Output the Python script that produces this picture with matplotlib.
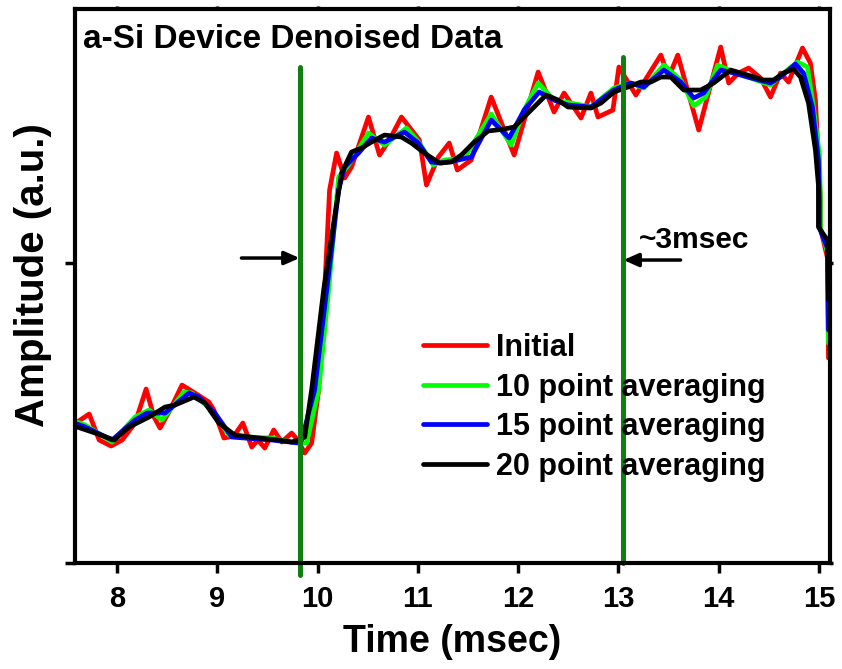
import matplotlib
matplotlib.use("Agg")
import matplotlib.pyplot as plt

plt.rcParams['font.family'] = ['Liberation Sans', 'DejaVu Sans']
plt.rcParams['font.weight'] = 'bold'

# ---- data (time in msec, amplitude in a.u.) ----
t_initial = [7.602, 7.721, 7.821, 7.940, 8.050, 8.179, 8.289, 8.368, 8.428, 8.527, 8.647, 8.776,
             8.915, 8.965, 9.065, 9.164, 9.254, 9.343, 9.403, 9.473, 9.562, 9.642, 9.741, 9.801,
             9.871, 9.940, 10.010, 10.070, 10.119, 10.189, 10.269, 10.338, 10.507, 10.617, 10.716,
             10.836, 11.015, 11.085, 11.204, 11.313, 11.393, 11.532, 11.731, 11.960, 12.199, 12.358,
             12.458, 12.627, 12.726, 12.796, 12.945, 13.005, 13.174, 13.423, 13.502, 13.592, 13.801,
             14.020, 14.100, 14.199, 14.299, 14.418, 14.517, 14.617, 14.697, 14.836, 14.915, 14.965,
             15.015, 15.015, 15.085, 15.095]
a_initial = [1.41, 1.49, 1.23, 1.17, 1.23, 1.40, 1.74, 1.46, 1.35, 1.53, 1.78, 1.70,
             1.61, 1.53, 1.25, 1.27, 1.40, 1.16, 1.23, 1.15, 1.33, 1.21, 1.30, 1.23,
             1.10, 1.20, 1.73, 2.73, 3.73, 4.10, 3.85, 3.96, 4.46, 4.08, 4.23,
             4.46, 4.23, 3.78, 4.06, 4.20, 3.93, 4.03, 4.66, 4.08, 4.91, 4.51,
             4.70, 4.45, 4.70, 4.46, 4.53, 4.96, 4.68, 5.08, 4.86, 5.08, 4.33,
             5.16, 4.80, 4.90, 4.95, 4.85, 4.66, 4.90, 4.81, 5.15, 5.00, 4.63,
             3.63, 3.35, 3.05, 2.05]

t_avg10 = [7.602, 7.682, 7.950, 8.179, 8.318, 8.448, 8.667, 8.746, 8.945, 9.114, 9.274, 9.542,
           9.741, 9.891, 10.010, 10.109, 10.209, 10.308, 10.507, 10.667, 10.886, 11.015, 11.154,
           11.264, 11.463, 11.731, 11.930, 12.060, 12.199, 12.358, 12.527, 12.726, 12.955, 13.124,
           13.254, 13.453, 13.622, 13.751, 13.871, 13.990, 14.149, 14.289, 14.517, 14.647, 14.786,
           14.886, 14.945, 15.005, 15.015, 15.015, 15.085, 15.095]
a_avg10 = [1.41, 1.38, 1.21, 1.46, 1.53, 1.43, 1.71, 1.70, 1.53, 1.28, 1.26, 1.25,
           1.21, 1.20, 1.73, 2.73, 3.86, 3.98, 4.30, 4.18, 4.35, 4.20, 3.98,
           4.03, 4.05, 4.49, 4.18, 4.53, 4.80, 4.63, 4.60, 4.56, 4.75, 4.80,
           4.75, 4.98, 4.83, 4.57, 4.66, 4.98, 4.91, 4.86, 4.78, 4.90, 5.01,
           4.96, 4.56, 4.08, 3.63, 3.35, 3.11, 2.20]

t_avg15 = [7.602, 7.682, 7.950, 8.179, 8.299, 8.478, 8.716, 8.816, 8.975, 9.144, 9.274, 9.542,
           9.811, 9.841, 9.970, 10.090, 10.209, 10.269, 10.408, 10.537, 10.667, 10.866, 11.005,
           11.134, 11.234, 11.403, 11.532, 11.731, 11.910, 12.060, 12.209, 12.358, 12.498, 12.726,
           12.955, 13.124, 13.254, 13.453, 13.622, 13.751, 13.851, 14.020, 14.149, 14.289, 14.517,
           14.617, 14.766, 14.846, 14.935, 14.995, 15.005, 15.005, 15.085, 15.095]
a_avg15 = [1.39, 1.36, 1.23, 1.43, 1.50, 1.50, 1.70, 1.66, 1.50, 1.26, 1.25, 1.23,
           1.20, 1.23, 1.73, 2.73, 3.73, 3.96, 4.10, 4.25, 4.21, 4.31, 4.20,
           4.01, 4.00, 4.03, 4.06, 4.43, 4.25, 4.53, 4.71, 4.63, 4.58, 4.56,
           4.73, 4.80, 4.76, 4.93, 4.81, 4.65, 4.70, 4.93, 4.90, 4.86, 4.80,
           4.86, 4.99, 4.90, 4.56, 4.03, 3.63, 3.35, 3.15, 2.33]

t_avg20 = [7.602, 7.781, 7.970, 8.119, 8.318, 8.478, 8.577, 8.766, 8.876, 9.015, 9.174, 9.413,
           9.612, 9.741, 9.811, 9.871, 9.940, 10.060, 10.169, 10.239, 10.338, 10.438, 10.537,
           10.667, 10.836, 10.935, 11.065, 11.214, 11.333, 11.433, 11.562, 11.701, 11.861, 11.960,
           12.129, 12.279, 12.398, 12.498, 12.726, 12.826, 12.955, 13.095, 13.224, 13.323, 13.423,
           13.522, 13.652, 13.821, 13.950, 14.119, 14.289, 14.448, 14.547, 14.647, 14.746, 14.816,
           14.896, 14.965, 14.995, 14.995, 15.085, 15.095]
a_avg20 = [1.36, 1.30, 1.23, 1.36, 1.46, 1.56, 1.58, 1.66, 1.60, 1.40, 1.28, 1.25,
           1.23, 1.21, 1.23, 1.26, 1.73, 2.73, 3.46, 3.90, 4.11, 4.15, 4.21,
           4.28, 4.26, 4.20, 4.10, 4.00, 4.01, 4.08, 4.21, 4.32, 4.34, 4.36,
           4.53, 4.68, 4.63, 4.56, 4.55, 4.60, 4.71, 4.76, 4.81, 4.81, 4.86,
           4.86, 4.73, 4.73, 4.80, 4.93, 4.88, 4.83, 4.83, 4.90, 4.94, 4.86,
           4.60, 4.13, 3.78, 3.36, 3.23, 2.63]

series_labels = ["Initial", "10 point averaging", "15 point averaging", "20 point averaging"]
series_colors = ["#ff0000", "#00ff00", "#0000ff", "#000000"]

marker_times = [9.82, 13.05]
x_ticks = [8, 9, 10, 11, 12, 13, 14, 15]
y_ticks = [0, 3.0]

# ---- figure ----
fig = plt.figure(figsize=(8.42, 6.69), dpi=100)
ax = fig.add_axes([0.0891, 0.1584, 0.8966, 0.8281])

for t, a, lab, col in zip([t_initial, t_avg10, t_avg15, t_avg20],
                          [a_initial, a_avg10, a_avg15, a_avg20],
                          series_labels, series_colors):
    ax.plot(t, a, color=col, lw=3.4, label=lab, solid_joinstyle='round',
            solid_capstyle='round')

ax.set_xlim(7.58, 15.11)
ax.set_ylim(0, 5.54)

# vertical green markers
ax.plot([marker_times[0]] * 2, [-0.12, 4.96], color='#0f800f', lw=3.6, clip_on=False,
        solid_capstyle='round')
ax.plot([marker_times[1]] * 2, [0.0, 5.06], color='#0f800f', lw=3.6, clip_on=False,
        solid_capstyle='round')

# arrows
ax.annotate('', xy=(marker_times[0], 3.05), xytext=(9.24, 3.05),
            arrowprops=dict(arrowstyle='-|>,head_length=0.9,head_width=0.4', color='black', lw=2.5,
                            shrinkA=0, shrinkB=0))
ax.annotate('', xy=(marker_times[1], 3.03), xytext=(13.62, 3.03),
            arrowprops=dict(arrowstyle='-|>,head_length=0.9,head_width=0.4', color='black', lw=2.5,
                            shrinkA=0, shrinkB=0))
ax.text(13.20, 3.23, '~3msec', fontsize=21.5, fontweight='bold', ha='left', va='center')

ax.text(0.0106, 0.93, 'a-Si Device Denoised Data', transform=ax.transAxes,
        fontsize=24, fontweight='bold', ha='left', va='baseline')

# axes styling
for s in ax.spines.values():
    s.set_linewidth(3.0)
ax.set_xticks(x_ticks)
ax.set_yticks(y_ticks)
ax.set_yticklabels([])
ax.tick_params(axis='x', which='major', direction='out', length=7, width=2.5,
               labelsize=21, pad=9, top=True)
ax.tick_params(axis='y', which='major', direction='out', length=7, width=2.5,
               right=True)
for tk in ax.xaxis.get_major_ticks() + ax.yaxis.get_major_ticks():
    tk.tick2line.set_markersize(2)
for lab in ax.get_xticklabels():
    lab.set_fontweight('bold')

ax.set_xlabel('Time (msec)', fontsize=27, fontweight='bold', labelpad=8)
ax.set_ylabel('Amplitude (a.u.)', fontsize=29, fontweight='bold', labelpad=20)
ax.yaxis.set_label_coords(-0.03, 0.52)

leg = ax.legend(loc='upper left', bbox_to_anchor=(0.461, 0.415), frameon=False,
                fontsize=22, handlelength=2.1, handletextpad=0.3, labelspacing=0.31,
                borderpad=0, borderaxespad=0)
for line in leg.get_lines():
    line.set_linewidth(3.4)
for txt in leg.get_texts():
    txt.set_fontweight('bold')

fig.savefig('out.png', dpi=100)
